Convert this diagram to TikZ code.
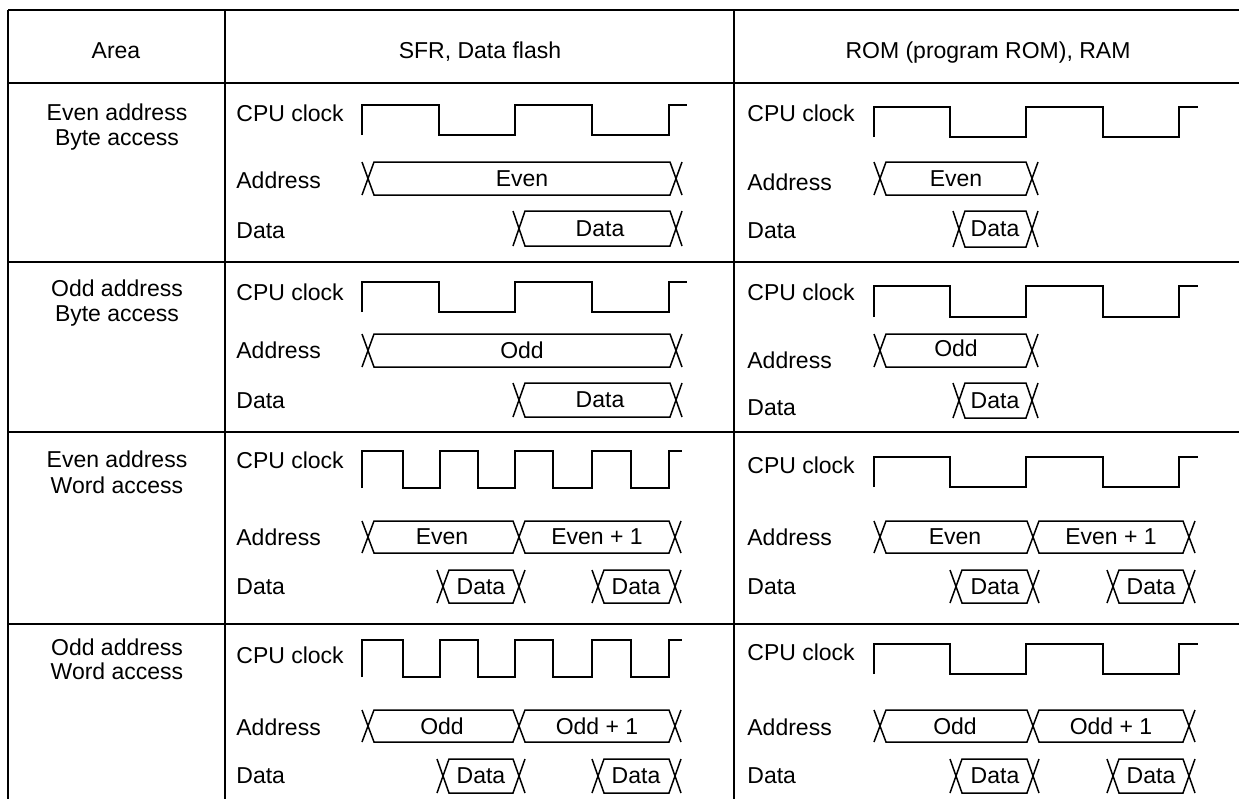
\documentclass[tikz,border=0pt]{standalone}
\usepackage{fontspec}
\setmainfont{Liberation Sans}
\begin{document}
\begin{tikzpicture}[x=0.5pt,y=-0.5pt,
  rule/.style={line width=1pt},
  wave/.style={line width=0.75pt,line join=miter},
  txt/.style={inner sep=0pt,font=\fontsize{11.5}{13}\selectfont},
  lab/.style={txt,anchor=base west},
  mid/.style={txt,anchor=base},
  val/.style={txt,anchor=center}]
 \useasboundingbox (0,0) rectangle (1239,799);
 % table
 \draw[rule](8,10)--(1245,10);
 \draw[rule](8,83)--(1245,83);
 \draw[rule](8,262)--(1245,262);
 \draw[rule](8,432)--(1245,432);
 \draw[rule](8,624)--(1245,624);
 \draw[rule](8,10)--(8,805);
 \draw[rule](225,10)--(225,805);
 \draw[rule](734,10)--(734,805);
 \node[mid] (area) at (116,58) {Area};
 \node[mid] (sfr) at (480,58) {SFR, Data flash};
 \node[mid] (rom) at (988,58) {ROM (program ROM), RAM};
 \node[mid] (eba) at (117,120) {Even address};
 \node[mid] (ebb) at (117,145.5) {Byte access};
 \node[mid] (oba) at (117,296.5) {Odd address};
 \node[mid] (obb) at (117,321.5) {Byte access};
 \node[mid] (ewa) at (117,467.5) {Even address};
 \node[mid] (ewb) at (117,493.5) {Word access};
 \node[mid] (owa) at (117,655.5) {Odd address};
 \node[mid] (owb) at (117,679.5) {Word access};
 % even address, byte access
 \node[lab] (clk12) at (236,121) {CPU clock};
 \node[lab] (adr12) at (236,188.5) {Address};
 \node[lab] (dat12) at (236,238) {Data};
 \draw[wave](362,135)--(362,105)--(439,105)--(439,135)--(515,135)--(515,105)--(592,105)--(592,135)--(669,135)--(669,105)--(687,105);
 \draw[wave](362,162)--(374,195)--(670,195)--(682,162);
 \draw[wave](362,195)--(374,162)--(670,162)--(682,195);
 \node[val] (a12) at (522,178.5) {Even};
 \draw[wave](513,211)--(525,246)--(670,246)--(682,211);
 \draw[wave](513,246)--(525,211)--(670,211)--(682,246);
 \node[val] (d12) at (600,228.5) {Data};
 \node[lab] (clk13) at (747,121) {CPU clock};
 \node[lab] (adr13) at (747,190.5) {Address};
 \node[lab] (dat13) at (747,238.5) {Data};
 \draw[wave](874,137)--(874,107)--(950,107)--(950,137)--(1026,137)--(1026,107)--(1103,107)--(1103,137)--(1179,137)--(1179,107)--(1198,107);
 \draw[wave](874,162)--(886,195)--(1026,195)--(1038,162);
 \draw[wave](874,195)--(886,162)--(1026,162)--(1038,195);
 \node[val] (a13) at (956,178.5) {Even};
 \draw[wave](953,211)--(965,247)--(1026,247)--(1038,211);
 \draw[wave](953,247)--(965,211)--(1026,211)--(1038,247);
 \node[val] (d13) at (995,229) {Data};
 % odd address, byte access
 \node[lab] (clk22) at (236,300.5) {CPU clock};
 \node[lab] (adr22) at (236,358.5) {Address};
 \node[lab] (dat22) at (236,408.5) {Data};
 \draw[wave](362,312)--(362,282)--(439,282)--(439,312)--(515,312)--(515,282)--(592,282)--(592,312)--(669,312)--(669,282)--(687,282);
 \draw[wave](362,334)--(374,367)--(670,367)--(682,334);
 \draw[wave](362,367)--(374,334)--(670,334)--(682,367);
 \node[val] (a22) at (522,350.5) {Odd};
 \draw[wave](513,383)--(525,417)--(670,417)--(682,383);
 \draw[wave](513,417)--(525,383)--(670,383)--(682,417);
 \node[val] (d22) at (600,400) {Data};
 \node[lab] (clk23) at (747,300.5) {CPU clock};
 \node[lab] (adr23) at (747,368.5) {Address};
 \node[lab] (dat23) at (747,415.5) {Data};
 \draw[wave](874,317)--(874,286)--(950,286)--(950,317)--(1026,317)--(1026,286)--(1103,286)--(1103,317)--(1179,317)--(1179,286)--(1198,286);
 \draw[wave](874,334)--(886,367)--(1026,367)--(1038,334);
 \draw[wave](874,367)--(886,334)--(1026,334)--(1038,367);
 \node[val] (a23) at (956,348) {Odd};
 \draw[wave](953,383)--(965,418)--(1026,418)--(1038,383);
 \draw[wave](953,418)--(965,383)--(1026,383)--(1038,418);
 \node[val] (d23) at (995,401) {Data};
 % even address, word access
 \node[lab] (clk32) at (236,468.5) {CPU clock};
 \node[lab] (adr32) at (236,545.5) {Address};
 \node[lab] (dat32) at (236,594.5) {Data};
 \draw[wave](362,488)--(362,451)--(403,451)--(403,488)--(440,488)--(440,451)--(478,451)--(478,488)--(515,488)--(515,451)--(553,451)--(553,488)--(592,488)--(592,451)--(631,451)--(631,488)--(669,488)--(669,451)--(682,451);
 \draw[wave](362,521)--(374,553)--(513,553)--(525,521)--(669,521)--(681,553);
 \draw[wave](362,553)--(374,521)--(513,521)--(525,553)--(669,553)--(681,521);
 \node[val] (a32) at (442,537) {Even};
 \node[val] (b32) at (597,537) {Even + 1};
 \draw[wave](437,570)--(449,603)--(513,603)--(525,570);
 \draw[wave](437,603)--(449,570)--(513,570)--(525,603);
 \draw[wave](592,570)--(604,603)--(669,603)--(681,570);
 \draw[wave](592,603)--(604,570)--(669,570)--(681,603);
 \node[val] (d32) at (481,586.5) {Data};
 \node[val] (e32) at (636,586.5) {Data};
 \node[lab] (clk33) at (747,473.5) {CPU clock};
 \node[lab] (adr33) at (747,545.5) {Address};
 \node[lab] (dat33) at (747,594.5) {Data};
 \draw[wave](874,487)--(874,457)--(950,457)--(950,487)--(1026,487)--(1026,457)--(1103,457)--(1103,487)--(1179,487)--(1179,457)--(1198,457);
 \draw[wave](874,521)--(886,553)--(1027,553)--(1039,521)--(1183,521)--(1195,553);
 \draw[wave](874,553)--(886,521)--(1027,521)--(1039,553)--(1183,553)--(1195,521);
 \node[val] (a33) at (955,537) {Even};
 \node[val] (b33) at (1111,537) {Even + 1};
 \draw[wave](950,570)--(962,603)--(1027,603)--(1039,570);
 \draw[wave](950,603)--(962,570)--(1027,570)--(1039,603);
 \draw[wave](1107,570)--(1119,603)--(1183,603)--(1195,570);
 \draw[wave](1107,603)--(1119,570)--(1183,570)--(1195,603);
 \node[val] (d33) at (995,586.5) {Data};
 \node[val] (e33) at (1151,586.5) {Data};
 % odd address, word access
 \node[lab] (clk42) at (236,663.5) {CPU clock};
 \node[lab] (adr42) at (236,735.5) {Address};
 \node[lab] (dat42) at (236,783.5) {Data};
 \draw[wave](362,677)--(362,640)--(403,640)--(403,677)--(440,677)--(440,640)--(478,640)--(478,677)--(515,677)--(515,640)--(553,640)--(553,677)--(592,677)--(592,640)--(631,640)--(631,677)--(669,677)--(669,640)--(682,640);
 \draw[wave](362,710)--(374,742)--(513,742)--(525,710)--(669,710)--(681,742);
 \draw[wave](362,742)--(374,710)--(513,710)--(525,742)--(669,742)--(681,710);
 \node[val] (a42) at (442,726) {Odd};
 \node[val] (b42) at (597,726) {Odd + 1};
 \draw[wave](437,759)--(449,793)--(513,793)--(525,759);
 \draw[wave](437,793)--(449,759)--(513,759)--(525,793);
 \draw[wave](592,759)--(604,793)--(669,793)--(681,759);
 \draw[wave](592,793)--(604,759)--(669,759)--(681,793);
 \node[val] (d42) at (481,776) {Data};
 \node[val] (e42) at (636,776) {Data};
 \node[lab] (clk43) at (747,660.5) {CPU clock};
 \node[lab] (adr43) at (747,735.5) {Address};
 \node[lab] (dat43) at (747,783.5) {Data};
 \draw[wave](874,674)--(874,644)--(950,644)--(950,674)--(1026,674)--(1026,644)--(1103,644)--(1103,674)--(1179,674)--(1179,644)--(1198,644);
 \draw[wave](874,710)--(886,742)--(1027,742)--(1039,710)--(1183,710)--(1195,742);
 \draw[wave](874,742)--(886,710)--(1027,710)--(1039,742)--(1183,742)--(1195,710);
 \node[val] (a43) at (955,726) {Odd};
 \node[val] (b43) at (1111,726) {Odd + 1};
 \draw[wave](950,759)--(962,793)--(1027,793)--(1039,759);
 \draw[wave](950,793)--(962,759)--(1027,759)--(1039,793);
 \draw[wave](1107,759)--(1119,793)--(1183,793)--(1195,759);
 \draw[wave](1107,793)--(1119,759)--(1183,759)--(1195,793);
 \node[val] (d43) at (995,776) {Data};
 \node[val] (e43) at (1151,776) {Data};
\end{tikzpicture}
\end{document}
